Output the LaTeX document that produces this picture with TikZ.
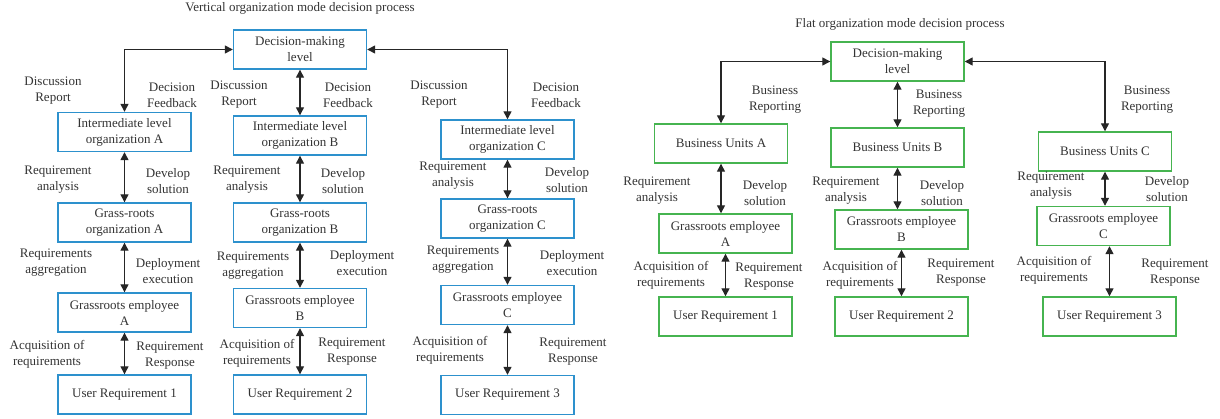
\documentclass[tikz,border=0pt]{standalone}
\usepackage{fontspec}
\setmainfont{Liberation Serif}
\usetikzlibrary{arrows.meta}
\definecolor{VertBlue}{RGB}{45,145,205}
\definecolor{FlatGreen}{RGB}{70,180,80}

\begin{document}
\begin{tikzpicture}[x=1pt,y=-1pt]
        \tikzset{
            BoxStyle/.style = {
                draw,
                line width = 1.4pt,
                fill = white,
                align = center,
                inner sep = 0pt,
                minimum width = 133pt,
                minimum height = 39pt,
                text = black!80,
                font = \fontsize{13}{16}\selectfont},
            EdgeStyle/.style = {
                line width = 1.3pt,
                draw = black!85,
                {Triangle[length=8pt,width=8pt]}-{Triangle[length=8pt,width=8pt]}},
            LabelStyle/.style = {
                align = center,
                inner sep = 0pt,
                text = black!80,
                font = \fontsize{13}{16}\selectfont}
                }
    \useasboundingbox (0,0) rectangle (1220,419);
    % vertical organization
    \node[LabelStyle] (vtitle) at (300,8) {Vertical organization mode decision process};
    \tikzset{BoxStyle/.append style = {draw = VertBlue}}
    \node[BoxStyle] (vdec) at (300,49.5) {Decision-making\\level};
    \node[BoxStyle] (vintA) at (124.5,132) {Intermediate level\\organization A};
    \node[BoxStyle] (vintB) at (300,135.5) {Intermediate level\\organization B};
    \node[BoxStyle] (vintC) at (507.5,139.5) {Intermediate level\\organization C};
    \node[BoxStyle] (vgrA) at (124.5,222.5) {Grass-roots\\organization A};
    \node[BoxStyle] (vgrB) at (300,222.5) {Grass-roots\\organization B};
    \node[BoxStyle] (vgrC) at (507.5,218.5) {Grass-roots\\organization C};
    \node[BoxStyle] (vempA) at (124.5,312.5) {Grassroots employee\\A};
    \node[BoxStyle] (vempB) at (300,308) {Grassroots employee\\B};
    \node[BoxStyle] (vempC) at (507.5,305) {Grassroots employee\\C};
    \node[BoxStyle] (vusrA) at (124.5,394.5) {User Requirement 1};
    \node[BoxStyle] (vusrB) at (300,394.5) {User Requirement 2};
    \node[BoxStyle] (vusrC) at (507.5,395) {User Requirement 3};
    \draw[EdgeStyle] (vdec.west) -| (vintA.north);
    \draw[EdgeStyle] (vdec.south) -- (vintB.north);
    \draw[EdgeStyle] (vdec.east) -| (vintC.north);
    \draw[EdgeStyle] (vintA) -- (vgrA);
    \draw[EdgeStyle] (vintB) -- (vgrB);
    \draw[EdgeStyle] (vintC) -- (vgrC);
    \draw[EdgeStyle] (vgrA) -- (vempA);
    \draw[EdgeStyle] (vgrB) -- (vempB);
    \draw[EdgeStyle] (vgrC) -- (vempC);
    \draw[EdgeStyle] (vempA) -- (vusrA);
    \draw[EdgeStyle] (vempB) -- (vusrB);
    \draw[EdgeStyle] (vempC) -- (vusrC);
    \node[LabelStyle] (vdisA) at (53,91) {Discussion\\Report};
    \node[LabelStyle] (vfeedA) at (172,95) {Decision\\Feedback};
    \node[LabelStyle] (vdisB) at (239,95) {Discussion\\Report};
    \node[LabelStyle] (vfeedB) at (348,95) {Decision\\Feedback};
    \node[LabelStyle] (vdisC) at (439,95) {Discussion\\Report};
    \node[LabelStyle] (vfeedC) at (556,95) {Decision\\Feedback};
    \node[LabelStyle] (vanaA) at (58,179.5) {Requirement\\analysis};
    \node[LabelStyle] (vsolA) at (168,181) {Develop\\solution};
    \node[LabelStyle] (vanaB) at (247,179.5) {Requirement\\analysis};
    \node[LabelStyle] (vsolB) at (343,181) {Develop\\solution};
    \node[LabelStyle] (vanaC) at (453,176) {Requirement\\analysis};
    \node[LabelStyle] (vsolC) at (567,180.5) {Develop\\solution};
    \node[LabelStyle] (vaggA) at (56,263) {Requirements\\aggregation};
    \node[LabelStyle] (vexeA) at (168,271) {Deployment\\execution};
    \node[LabelStyle] (vaggB) at (253,266) {Requirements\\aggregation};
    \node[LabelStyle] (vexeB) at (362,263) {Deployment\\execution};
    \node[LabelStyle] (vaggC) at (463,260) {Requirements\\aggregation};
    \node[LabelStyle] (vexeC) at (572,263.5) {Deployment\\execution};
    \node[LabelStyle] (vacqA) at (47,354) {Acquisition of\\requirements};
    \node[LabelStyle] (vresA) at (170,356) {Requirement\\Response};
    \node[LabelStyle] (vacqB) at (257,353) {Acquisition of\\requirements};
    \node[LabelStyle] (vresB) at (352,352) {Requirement\\Response};
    \node[LabelStyle] (vacqC) at (450,350) {Acquisition of\\requirements};
    \node[LabelStyle] (vresC) at (573,351.5) {Requirement\\Response};
    % flat organization
    \node[LabelStyle] (ftitle) at (900,24) {Flat organization mode decision process};
    \tikzset{BoxStyle/.append style = {draw = FlatGreen}}
    \node[BoxStyle] (fdec) at (897.5,61.5) {Decision-making\\level};
    \node[BoxStyle] (fbuA) at (721,143.5) {Business Units A};
    \node[BoxStyle] (fbuB) at (897.5,147.5) {Business Units B};
    \node[BoxStyle] (fbuC) at (1105,151.5) {Business Units C};
    \node[BoxStyle] (fgeA) at (725.5,233.5) {Grassroots employee\\A};
    \node[BoxStyle] (fgeB) at (901.5,229.5) {Grassroots employee\\B};
    \node[BoxStyle] (fgeC) at (1103.5,226) {Grassroots employee\\C};
    \node[BoxStyle] (fusrA) at (725.5,316.5) {User Requirement 1};
    \node[BoxStyle] (fusrB) at (901.5,316.5) {User Requirement 2};
    \node[BoxStyle] (fusrC) at (1109.5,316.5) {User Requirement 3};
    \draw[EdgeStyle] (fdec.west) -| (fbuA.north);
    \draw[EdgeStyle] (fdec.south) -- (fbuB.north);
    \draw[EdgeStyle] (fdec.east) -| (fbuC.north);
    \draw[EdgeStyle] (fbuA.south) -- (fbuA.south |- fgeA.north);
    \draw[EdgeStyle] (fbuB.south) -- (fbuB.south |- fgeB.north);
    \draw[EdgeStyle] (fbuC.south) -- (fbuC.south |- fgeC.north);
    \draw[EdgeStyle] (fgeA.south) -- (fgeA.south |- fusrA.north);
    \draw[EdgeStyle] (fgeB.south) -- (fgeB.south |- fusrB.north);
    \draw[EdgeStyle] (fusrC.north |- fgeC.south) -- (fusrC.north);
    \node[LabelStyle] (frepA) at (775,100) {Business\\Reporting};
    \node[LabelStyle] (frepB) at (939,104) {Business\\Reporting};
    \node[LabelStyle] (frepC) at (1147,100) {Business\\Reporting};
    \node[LabelStyle] (fanaA) at (657,191) {Requirement\\analysis};
    \node[LabelStyle] (fsolA) at (765,193) {Develop\\solution};
    \node[LabelStyle] (fanaB) at (846,191) {Requirement\\analysis};
    \node[LabelStyle] (fsolB) at (942,193) {Develop\\solution};
    \node[LabelStyle] (fanaC) at (1051,186) {Requirement\\analysis};
    \node[LabelStyle] (fsolC) at (1167,189.5) {Develop\\solution};
    \node[LabelStyle] (facqA) at (671,275.5) {Acquisition of\\requirements};
    \node[LabelStyle] (fresA) at (769,276.5) {Requirement\\Response};
    \node[LabelStyle] (facqB) at (860,275) {Acquisition of\\requirements};
    \node[LabelStyle] (fresB) at (961,273) {Requirement\\Response};
    \node[LabelStyle] (facqC) at (1054,270.5) {Acquisition of\\requirements};
    \node[LabelStyle] (fresC) at (1175,273) {Requirement\\Response};
    \end{tikzpicture}
\end{document}
